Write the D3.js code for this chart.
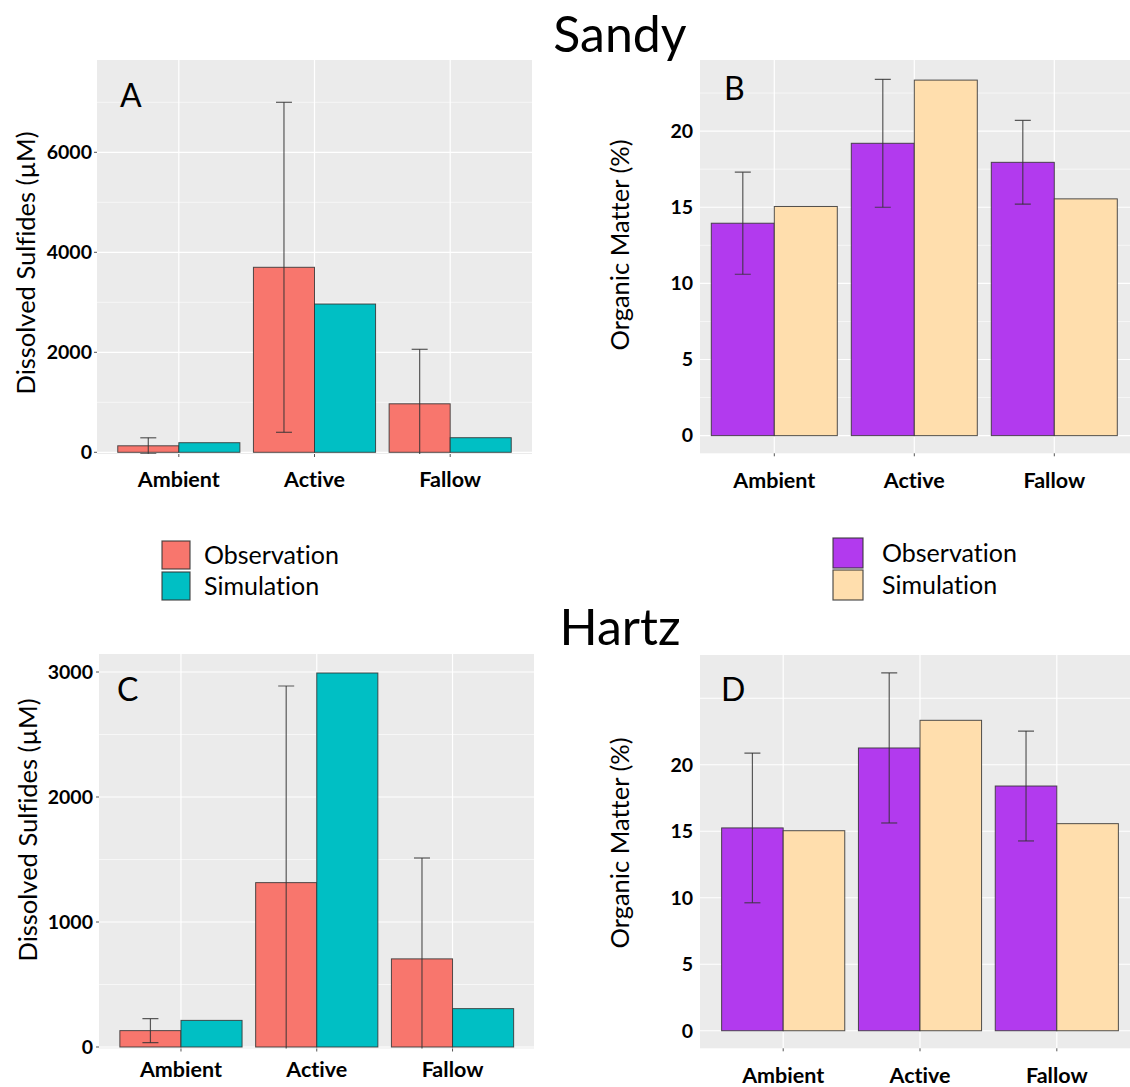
<!DOCTYPE html>
<html>
<head>
<meta charset="utf-8">
<script src="https://cdn.jsdelivr.net/npm/d3@7"></script>
<style>
  html, body { margin: 0; padding: 0; background: #ffffff; }
  svg { display: block; font-family: Lato, "Open Sans", sans-serif; font-variant-ligatures: none; }
</style>
</head>
<body>
<svg id="chart" width="1130" height="1087"></svg>
<script>
// ---- data -------------------------------------------------------------
const categories = ["Ambient", "Active", "Fallow"];
const seriesNames = ["Observation", "Simulation"];

// Sandy site: dissolved sulfides (µM)
const sandySulfideObs   = [130, 3700, 970];
const sandySulfideObsSd = [160, 3300, 1090];
const sandySulfideSim   = [192, 2965, 292];
// Sandy site: organic matter (%)
const sandyOmObs   = [13.95, 19.2, 17.95];
const sandyOmObsSd = [3.35, 4.2, 2.75];
const sandyOmSim   = [15.05, 23.35, 15.55];

// Hartz site: dissolved sulfides (µM)
const hartzSulfideObs   = [131, 1315, 705];
const hartzSulfideObsSd = [96, 1573, 807];
const hartzSulfideSim   = [213, 2992, 307];
// Hartz site: organic matter (%)
const hartzOmObs   = [15.25, 21.26, 18.4];
const hartzOmObsSd = [5.63, 5.64, 4.13];
const hartzOmSim   = [15.04, 23.34, 15.57];

// axis ticks
const sandySulfideTicks = [0, 2000, 4000, 6000];
const sandySulfideMinor = [1000, 3000, 5000, 7000];
const hartzSulfideTicks = [0, 1000, 2000, 3000];
const hartzSulfideMinor = [500, 1500, 2500];
const omTicks = [0, 5, 10, 15, 20];
const sandyOmMinor = [2.5, 7.5, 12.5, 17.5, 22.5];
const hartzOmGrid = [0, 5, 10, 15, 20, 25];

// ---- colours -------------------------------------------------------------
const sulfideColors = ["#F8766D", "#00BFC4"];
const omColors = ["#B23AEE", "#FFDEAD"];

// ---- layout --------------------------------------------------------------
const panels = [
  { letter: "A", obs: sandySulfideObs, sd: sandySulfideObsSd, sim: sandySulfideSim,
    colors: sulfideColors, ticks: sandySulfideTicks, minor: sandySulfideMinor, grid: sandySulfideTicks,
    yLabel: "Dissolved Sulfides (µM)", yTicksMarks: true,
    box: { left: 97, right: 532, top: 60, bottom: 454 }, xRange: [97.4, 531.6], yDomain: [-34, 7846],
    yTitleX: 26, yTitleY: 263, tickLabelX: 92, xLabelY: 487, letterPos: [120, 107] },
  { letter: "B", obs: sandyOmObs, sd: sandyOmObsSd, sim: sandyOmSim,
    colors: omColors, ticks: omTicks, minor: sandyOmMinor, grid: omTicks,
    yLabel: "Organic Matter (%)", yTicksMarks: false,
    box: { left: 700, right: 1130, top: 60, bottom: 453.3 }, xRange: [690.3, 1138.3], yDomain: [-1.16, 24.67],
    yTitleX: 620, yTitleY: 245, tickLabelX: 693, xLabelY: 488, letterPos: [724, 99.5] },
  { letter: "C", obs: hartzSulfideObs, sd: hartzSulfideObsSd, sim: hartzSulfideSim,
    colors: sulfideColors, ticks: hartzSulfideTicks, minor: hartzSulfideMinor, grid: hartzSulfideTicks,
    yLabel: "Dissolved Sulfides (µM)", yTicksMarks: true,
    box: { left: 99, right: 534, top: 654, bottom: 1048.5 }, xRange: [99.5, 534], yDomain: [-12, 3144],
    yTitleX: 28, yTitleY: 830, tickLabelX: 93, xLabelY: 1077, letterPos: [117, 701] },
  { letter: "D", obs: hartzOmObs, sd: hartzOmObsSd, sim: hartzOmSim,
    colors: omColors, ticks: omTicks, minor: [], grid: hartzOmGrid,
    yLabel: "Organic Matter (%)", yTicksMarks: false,
    box: { left: 700, right: 1130, top: 655, bottom: 1048.3 }, xRange: [701.1, 1138.9], yDomain: [-1.32, 28.25],
    yTitleX: 620, yTitleY: 843, tickLabelX: 693, xLabelY: 1083, letterPos: [721, 701] }
];

const svg = d3.select("#chart");

// ---- site titles ------------------------------------------------------------
svg.append("text").attr("x", 620).attr("y", 52).attr("text-anchor", "middle")
  .attr("font-size", 50).attr("fill", "#000").text("Sandy");
svg.append("text").attr("x", 620).attr("y", 645).attr("text-anchor", "middle")
  .attr("font-size", 50).attr("fill", "#000").text("Hartz");

// ---- panels -------------------------------------------------------------
panels.forEach((p, pi) => {
  const b = p.box;
  const g = svg.append("g");

  const x = d3.scaleBand().domain(categories).range(p.xRange)
    .paddingInner(0.1).paddingOuter(0.15);
  const xs = d3.scaleBand().domain(seriesNames).range([0, x.bandwidth()]);
  const y = d3.scaleLinear().domain(p.yDomain).range([b.bottom, b.top]);
  const xc = c => x(c) + x.bandwidth() / 2;

  const clipId = "clip" + pi;
  g.append("clipPath").attr("id", clipId).append("rect")
    .attr("x", b.left).attr("y", b.top).attr("width", b.right - b.left).attr("height", b.bottom - b.top);

  // background
  g.append("rect").attr("x", b.left).attr("y", b.top)
    .attr("width", b.right - b.left).attr("height", b.bottom - b.top).attr("fill", "#EBEBEB");

  const plot = g.append("g").attr("clip-path", `url(#${clipId})`);

  // grid lines
  plot.selectAll(".minor").data(p.minor).join("line")
    .attr("x1", b.left).attr("x2", b.right).attr("y1", d => y(d)).attr("y2", d => y(d))
    .attr("stroke", "#fff").attr("stroke-width", 0.6);
  plot.selectAll(".major").data(p.grid).join("line")
    .attr("x1", b.left).attr("x2", b.right).attr("y1", d => y(d)).attr("y2", d => y(d))
    .attr("stroke", "#fff").attr("stroke-width", 1.2);
  plot.selectAll(".vgrid").data(categories).join("line")
    .attr("x1", xc).attr("x2", xc).attr("y1", b.top).attr("y2", b.bottom)
    .attr("stroke", "#fff").attr("stroke-width", 1.2);

  // bars
  const rows = categories.map((c, i) => ({
    cat: c, obs: p.obs[i], sd: p.sd[i], sim: p.sim[i]
  }));
  const barData = [];
  rows.forEach(r => {
    barData.push({ cat: r.cat, s: seriesNames[0], v: r.obs, ci: 0 });
    barData.push({ cat: r.cat, s: seriesNames[1], v: r.sim, ci: 1 });
  });
  plot.selectAll(".bar").data(barData).join("rect")
    .attr("x", d => x(d.cat) + xs(d.s))
    .attr("width", xs.bandwidth())
    .attr("y", d => y(d.v))
    .attr("height", d => y(0) - y(d.v))
    .attr("fill", d => p.colors[d.ci])
    .attr("stroke", "#333").attr("stroke-opacity", 0.85).attr("stroke-width", 1);

  // error bars on the observations (mean ± sd)
  const half = 8;
  const eg = plot.selectAll(".err").data(rows).join("g")
    .attr("stroke", "#333").attr("stroke-opacity", 0.8).attr("stroke-width", 1.2);
  const ex = d => x(d.cat) + xs(seriesNames[0]) + xs.bandwidth() / 2;
  eg.append("line").attr("x1", ex).attr("x2", ex)
    .attr("y1", d => y(d.obs - d.sd)).attr("y2", d => y(d.obs + d.sd));
  eg.append("line").attr("x1", d => ex(d) - half).attr("x2", d => ex(d) + half)
    .attr("y1", d => y(d.obs + d.sd)).attr("y2", d => y(d.obs + d.sd));
  eg.append("line").attr("x1", d => ex(d) - half).attr("x2", d => ex(d) + half)
    .attr("y1", d => y(d.obs - d.sd)).attr("y2", d => y(d.obs - d.sd));

  // y axis tick labels
  g.selectAll(".ytl").data(p.ticks).join("text")
    .attr("x", p.tickLabelX).attr("y", d => y(d)).attr("dy", "0.35em")
    .attr("text-anchor", "end").attr("font-size", 19.5).attr("font-weight", "bold")
    .attr("fill", "#000").text(d => d3.format("d")(d));
  if (p.yTicksMarks) {
    g.selectAll(".ytm").data(p.ticks).join("line")
      .attr("x1", b.left - 3).attr("x2", b.left).attr("y1", d => y(d)).attr("y2", d => y(d))
      .attr("stroke", "#555").attr("stroke-width", 1);
  }

  // x axis ticks and labels
  g.selectAll(".xtm").data(categories).join("line")
    .attr("x1", xc).attr("x2", xc).attr("y1", b.bottom).attr("y2", b.bottom + 3)
    .attr("stroke", "#555").attr("stroke-width", 1);
  g.selectAll(".xtl").data(categories).join("text")
    .attr("x", xc).attr("y", p.xLabelY).attr("text-anchor", "middle")
    .attr("font-size", 21.5).attr("font-weight", "bold").attr("fill", "#000").text(d => d);

  // y axis title
  g.append("text")
    .attr("transform", `translate(${p.yTitleX},${p.yTitleY}) rotate(-90)`)
    .attr("text-anchor", "middle").attr("dy", "0.35em")
    .attr("font-size", 25.5).attr("fill", "#000").text(p.yLabel);

  // panel letter
  g.append("text").attr("x", p.letterPos[0]).attr("y", p.letterPos[1])
    .attr("font-size", 32).attr("fill", "#000").text(p.letter);
});

// ---- legends ----------------------------------------------------------------
const legends = [
  { colors: sulfideColors, x: 162, y: 541, size: 28, gap: 3, textX: 204 },
  { colors: omColors, x: 833, y: 538, size: 30, gap: 2, textX: 882 }
];
legends.forEach(l => {
  const lg = svg.append("g");
  lg.selectAll("rect").data(seriesNames).join("rect")
    .attr("x", l.x).attr("y", (d, i) => l.y + i * (l.size + l.gap))
    .attr("width", l.size).attr("height", l.size)
    .attr("fill", (d, i) => l.colors[i])
    .attr("stroke", "#333").attr("stroke-opacity", 0.85).attr("stroke-width", 1.2);
  lg.selectAll("text").data(seriesNames).join("text")
    .attr("x", l.textX).attr("y", (d, i) => l.y + i * (l.size + l.gap) + l.size / 2)
    .attr("dy", "0.35em").attr("font-size", 25).attr("fill", "#000").text(d => d);
});
</script>
</body>
</html>
